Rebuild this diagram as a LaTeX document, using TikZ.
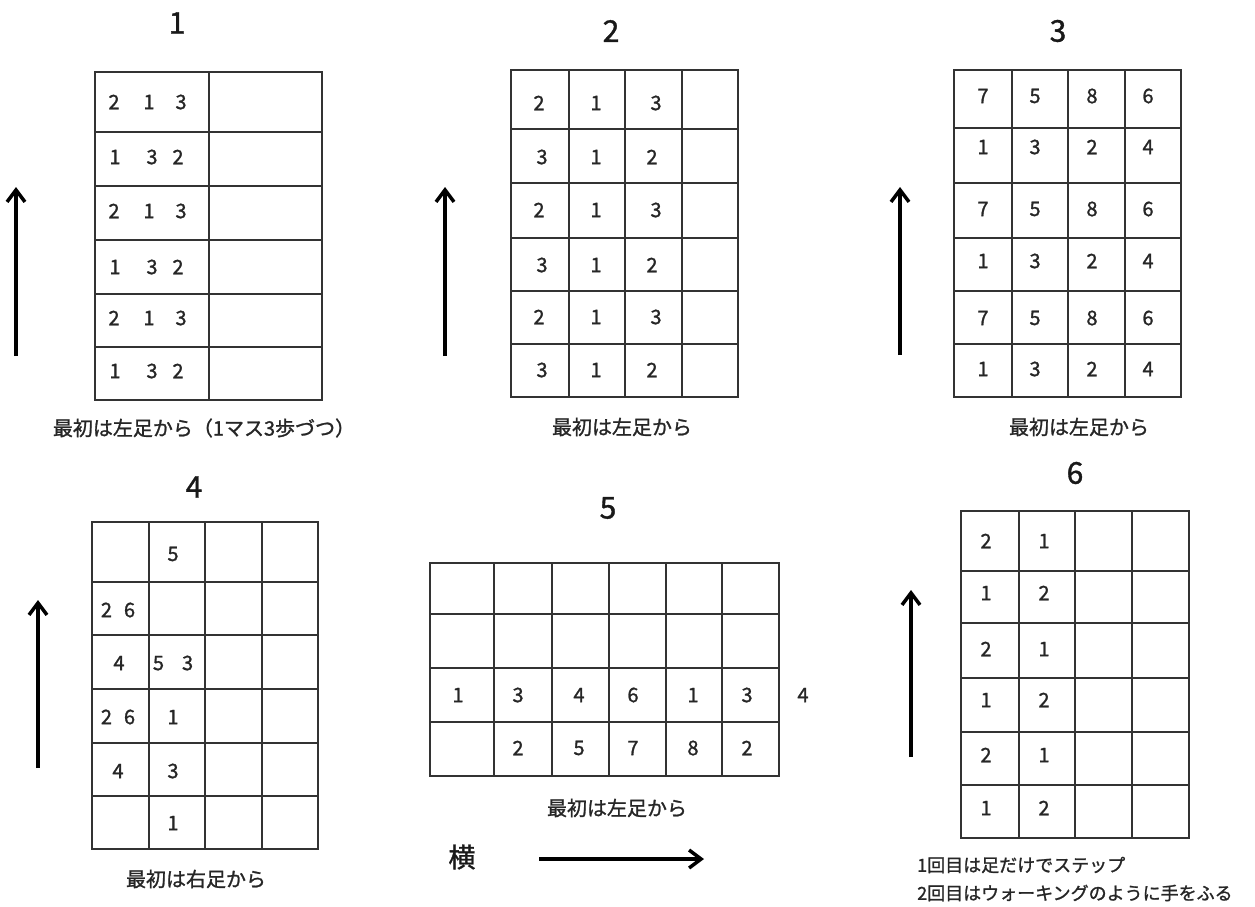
\documentclass[tikz,border=0pt]{standalone}
\usepackage{fontspec}
\setmainfont{Noto Sans CJK JP}[FakeBold=1.2]
\usetikzlibrary{arrows.meta}
\begin{document}
\begin{tikzpicture}[x=1pt,y=-1pt,
 gridline/.style={line width=1.5pt, draw=black!80},
 num/.style={inner sep=0pt, text=black!85, font=\fontsize{20}{20}\selectfont},
 ttl/.style={inner sep=0pt, text=black!90, font=\fontsize{30}{30}\selectfont},
 captext/.style={inner sep=0pt, text=black!85, font=\fontsize{20}{20}\selectfont},
 capsix/.style={inner sep=0pt, anchor=west, text=black!85, font=\fontsize{18}{18}\selectfont},
 dirarrow/.style={line width=3.5pt, -{Straight Barb[length=12pt,width=18pt]}}]
\useasboundingbox (0,0) rectangle (1255,907);
\fill[white] (0,0) rectangle (1255,907);

% ---------- 1 ----------
\node[ttl] (t1) at (177,23) {1};
\draw[gridline] (95,72) rectangle (322,400);
\draw[gridline] (209,72) -- (209,400);
\foreach \y in {132,186,240,294,347} \draw[gridline] (95,\y) -- (322,\y);
\foreach \y [count=\i] in {102,211,318} {
  \node[num] (g1a\i) at (114,\y) {2};
  \node[num] (g1b\i) at (149,\y) {1};
  \node[num] (g1c\i) at (181,\y) {3};
}
\foreach \y [count=\i] in {157,267,371} {
  \node[num] (g1d\i) at (115,\y) {1};
  \node[num] (g1e\i) at (152,\y) {3};
  \node[num] (g1f\i) at (178,\y) {2};
}
\coordinate (a1s) at (16,356); \coordinate (a1e) at (16,187);
\draw[dirarrow] (a1s) -- (a1e);
\node[captext] (c1) at (204,428) {最初は左足から（1マス3歩づつ）};

% ---------- 2 ----------
\node[ttl] (t2) at (611,31) {2};
\draw[gridline] (511,70) rectangle (738,397);
\foreach \x in {569,625,682} \draw[gridline] (\x,70) -- (\x,397);
\foreach \y in {129,183,238,291,344} \draw[gridline] (511,\y) -- (738,\y);
\foreach \y [count=\i] in {103,210,317} {
  \node[num] (g2a\i) at (539,\y) {2};
  \node[num] (g2b\i) at (596,\y) {1};
  \node[num] (g2c\i) at (656,\y) {3};
}
\foreach \y [count=\i] in {157,265,370} {
  \node[num] (g2d\i) at (542,\y) {3};
  \node[num] (g2e\i) at (596,\y) {1};
  \node[num] (g2f\i) at (652,\y) {2};
}
\coordinate (a2s) at (445,356); \coordinate (a2e) at (445,187);
\draw[dirarrow] (a2s) -- (a2e);
\node[captext] (c2) at (622,427) {最初は左足から};

% ---------- 3 ----------
\node[ttl] (t3) at (1058,31) {3};
\draw[gridline] (954,70) rectangle (1181,397);
\foreach \x in {1012,1068,1125} \draw[gridline] (\x,70) -- (\x,397);
\foreach \y in {128,183,238,291,344} \draw[gridline] (954,\y) -- (1181,\y);
\foreach \y [count=\i] in {96,209,318} {
  \node[num] (g3a\i) at (983,\y) {7};
  \node[num] (g3b\i) at (1035,\y) {5};
  \node[num] (g3c\i) at (1092,\y) {8};
  \node[num] (g3d\i) at (1148,\y) {6};
}
\foreach \y [count=\i] in {147,261,369} {
  \node[num] (g3e\i) at (983,\y) {1};
  \node[num] (g3f\i) at (1035,\y) {3};
  \node[num] (g3g\i) at (1092,\y) {2};
  \node[num] (g3h\i) at (1148,\y) {4};
}
\coordinate (a3s) at (900,355); \coordinate (a3e) at (900,187);
\draw[dirarrow] (a3s) -- (a3e);
\node[captext] (c3) at (1079,427) {最初は左足から};

% ---------- 4 ----------
\node[ttl] (t4) at (194,487) {4};
\draw[gridline] (92,522) rectangle (318,849);
\foreach \x in {149,205,262} \draw[gridline] (\x,522) -- (\x,849);
\foreach \y in {582,635,689,743,796} \draw[gridline] (92,\y) -- (318,\y);
\node[num] (g4r1b) at (173,554) {5};
\node[num] (g4r2a) at (118,610) {2\hspace{12pt}6};
\node[num] (g4r3a) at (119,663) {4};
\node[num] (g4r3b) at (173,663) {5\hspace{18pt}3};
\node[num] (g4r4a) at (118,717) {2\hspace{12pt}6};
\node[num] (g4r4b) at (173,717) {1};
\node[num] (g4r5a) at (118,771) {4};
\node[num] (g4r5b) at (173,771) {3};
\node[num] (g4r6b) at (173,823) {1};
\coordinate (a4s) at (38,768); \coordinate (a4e) at (38,600);
\draw[dirarrow] (a4s) -- (a4e);
\node[captext] (c4) at (196,879) {最初は右足から};

% ---------- 5 ----------
\node[ttl] (t5) at (608,508) {5};
\draw[gridline] (430,563) rectangle (779,776);
\foreach \x in {494,552,609,666,722} \draw[gridline] (\x,563) -- (\x,776);
\foreach \y in {614,668,722} \draw[gridline] (430,\y) -- (779,\y);
\foreach \x/\v [count=\i] in {458/1,518/3,579/4,633/6,693/1,747/3,803/4}
  \node[num] (g5a\i) at (\x,695) {\v};
\foreach \x/\v [count=\i] in {518/2,579/5,633/7,693/8,747/2}
  \node[num] (g5b\i) at (\x,748) {\v};
\node[captext] (c5) at (617,808) {最初は左足から};
\node[inner sep=0pt, text=black!90, font=\fontsize{27}{27}\selectfont] (yoko) at (462,857) {横};
\coordinate (a5s) at (539,859); \coordinate (a5e) at (704,859);
\draw[dirarrow] (a5s) -- (a5e);

% ---------- 6 ----------
\node[ttl] (t6) at (1075,473) {6};
\draw[gridline] (961,511) rectangle (1189,838);
\foreach \x in {1019,1075,1132} \draw[gridline] (\x,511) -- (\x,838);
\foreach \y in {571,623,678,732,785} \draw[gridline] (961,\y) -- (1189,\y);
\foreach \y [count=\i] in {541,649,755} {
  \node[num] (g6a\i) at (986,\y) {2};
  \node[num] (g6b\i) at (1044,\y) {1};
}
\foreach \y [count=\i] in {593,700,808} {
  \node[num] (g6c\i) at (986,\y) {1};
  \node[num] (g6d\i) at (1044,\y) {2};
}
\coordinate (a6s) at (911,757); \coordinate (a6e) at (911,590);
\draw[dirarrow] (a6s) -- (a6e);
\node[capsix] (c6a) at (917,865) {1回目は足だけでステップ};
\node[capsix] (c6b) at (917,893) {2回目はウォーキングのように手をふる};
\end{tikzpicture}
\end{document}
